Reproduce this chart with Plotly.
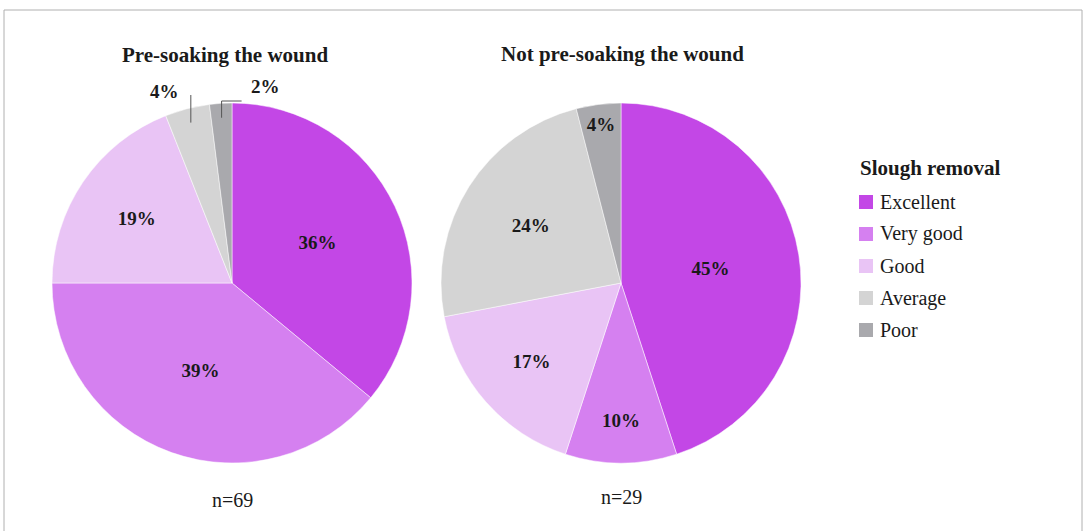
import math
import plotly.graph_objects as go

W, H = 1085, 531

categories = ["Excellent", "Very good", "Good", "Average", "Poor"]
pre_soak = [36, 39, 19, 4, 2]
not_pre_soak = [45, 10, 17, 24, 4]
colors = ["#C347E6", "#D580F0", "#E9C4F5", "#D4D4D4", "#A9A9AD"]
titles = ["Pre-soaking the wound", "Not pre-soaking the wound"]
n_labels = ["n=69", "n=29"]
legend_title = "Slough removal"

FONT = "Liberation Serif"
TXT = "#1a1a1a"

def px(x):
    return x / W

def py(y):
    return 1 - y / H

# pie domains in pixels (x0, x1, y_top, y_bottom)
dom1 = (52, 412, 103, 463)
dom2 = (441, 801, 103, 463)

fig = go.Figure()

small = [v < 5 for v in pre_soak]
text1 = ["" if s else f"<b>{v}%</b>" for v, s in zip(pre_soak, small)]
text2 = [f"<b>{v}%</b>" for v in not_pre_soak]

for vals, txt, dom in [(pre_soak, text1, dom1), (not_pre_soak, text2, dom2)]:
    fig.add_trace(go.Pie(
        labels=categories, values=vals, text=txt,
        textinfo="text", textposition="inside", insidetextorientation="horizontal",
        sort=False, direction="clockwise", rotation=0,
        marker=dict(colors=colors, line=dict(color="white", width=0.5)),
        textfont=dict(family=FONT, size=19, color=TXT),
        domain=dict(x=[px(dom[0]), px(dom[1])], y=[py(dom[3]), py(dom[2])]),
        showlegend=False, hoverinfo="label+percent",
    ))

annotations = []
shapes = []

# titles and n labels
for dom, t, n, tx, ty, ny in [(dom1, titles[0], n_labels[0], 225, 55, 500),
                              (dom2, titles[1], n_labels[1], 622, 54, 497)]:
    cx = (dom[0] + dom[1]) / 2
    annotations.append(dict(x=px(tx), y=py(ty), xref="paper", yref="paper",
                            text=f"<b>{t}</b>", showarrow=False,
                            font=dict(family=FONT, size=21, color=TXT),
                            xanchor="center", yanchor="middle"))
    annotations.append(dict(x=px(cx), y=py(ny), xref="paper", yref="paper",
                            text=n, showarrow=False,
                            font=dict(family=FONT, size=20, color=TXT),
                            xanchor="center", yanchor="middle"))

# leader lines for small slices of pie 1 (computed from data)
cx1 = (dom1[0] + dom1[1]) / 2
cy1 = (dom1[2] + dom1[3]) / 2
r1 = (dom1[1] - dom1[0]) / 2
total = sum(pre_soak)
cum = 0
mids = []
for v in pre_soak:
    mids.append((cum + v / 2) / total)
    cum += v

line_style = dict(color="#555555", width=1)
for i, v in enumerate(pre_soak):
    if not small[i]:
        continue
    theta = 2 * math.pi * mids[i]
    x_in = cx1 + 0.92 * r1 * math.sin(theta)
    y_in = cy1 - 0.92 * r1 * math.cos(theta)
    if categories[i] == "Average":
        shapes.append(dict(type="line", xref="paper", yref="paper",
                           x0=px(x_in), y0=py(y_in), x1=px(x_in), y1=py(95), line=line_style))
        annotations.append(dict(x=px(x_in - 10), y=py(91), xref="paper", yref="paper",
                                text=f"<b>{v}%</b>", showarrow=False,
                                font=dict(family=FONT, size=19, color=TXT),
                                xanchor="right", yanchor="middle"))
    else:
        shapes.append(dict(type="path", xref="paper", yref="paper",
                           path=f"M {px(x_in)},{py(y_in)} L {px(x_in)},{py(101)} L {px(x_in + 20)},{py(101)}",
                           line=line_style))
        annotations.append(dict(x=px(x_in + 27), y=py(87), xref="paper", yref="paper",
                                text=f"<b>{v}%</b>", showarrow=False,
                                font=dict(family=FONT, size=19, color=TXT),
                                xanchor="left", yanchor="middle"))

# manual legend
LEG_X, LEG_TITLE_Y, LEG_Y0, LEG_DY, SQ = 859, 168, 202, 32, 14
annotations.append(dict(x=px(LEG_X - 1), y=py(LEG_TITLE_Y), xref="paper", yref="paper",
                        text=f"<b>{legend_title}</b>", showarrow=False,
                        font=dict(family=FONT, size=21, color=TXT),
                        xanchor="left", yanchor="middle"))
for i, (cat, col) in enumerate(zip(categories, colors)):
    yc = LEG_Y0 + i * LEG_DY
    shapes.append(dict(type="rect", xref="paper", yref="paper",
                       x0=px(LEG_X), x1=px(LEG_X + SQ), y0=py(yc + SQ / 2), y1=py(yc - SQ / 2),
                       line=dict(width=0), fillcolor=col))
    annotations.append(dict(x=px(LEG_X + SQ + 5), y=py(yc), xref="paper", yref="paper",
                            text=cat, showarrow=False,
                            font=dict(family=FONT, size=20, color=TXT),
                            xanchor="left", yanchor="middle"))

# outer frame
shapes.append(dict(type="rect", xref="paper", yref="paper",
                   x0=px(4), x1=px(1082), y0=py(540), y1=py(10),
                   line=dict(color="#B0B0B0", width=1), fillcolor="rgba(0,0,0,0)"))

fig.update_layout(
    width=W, height=H,
    margin=dict(l=0, r=0, t=0, b=0),
    paper_bgcolor="white", plot_bgcolor="white",
    font=dict(family=FONT, color=TXT),
    showlegend=False,
    annotations=annotations,
    shapes=shapes,
)

fig.write_html("out.html", config={"displayModeBar": False},
               post_script="document.body.style.margin='0';")
